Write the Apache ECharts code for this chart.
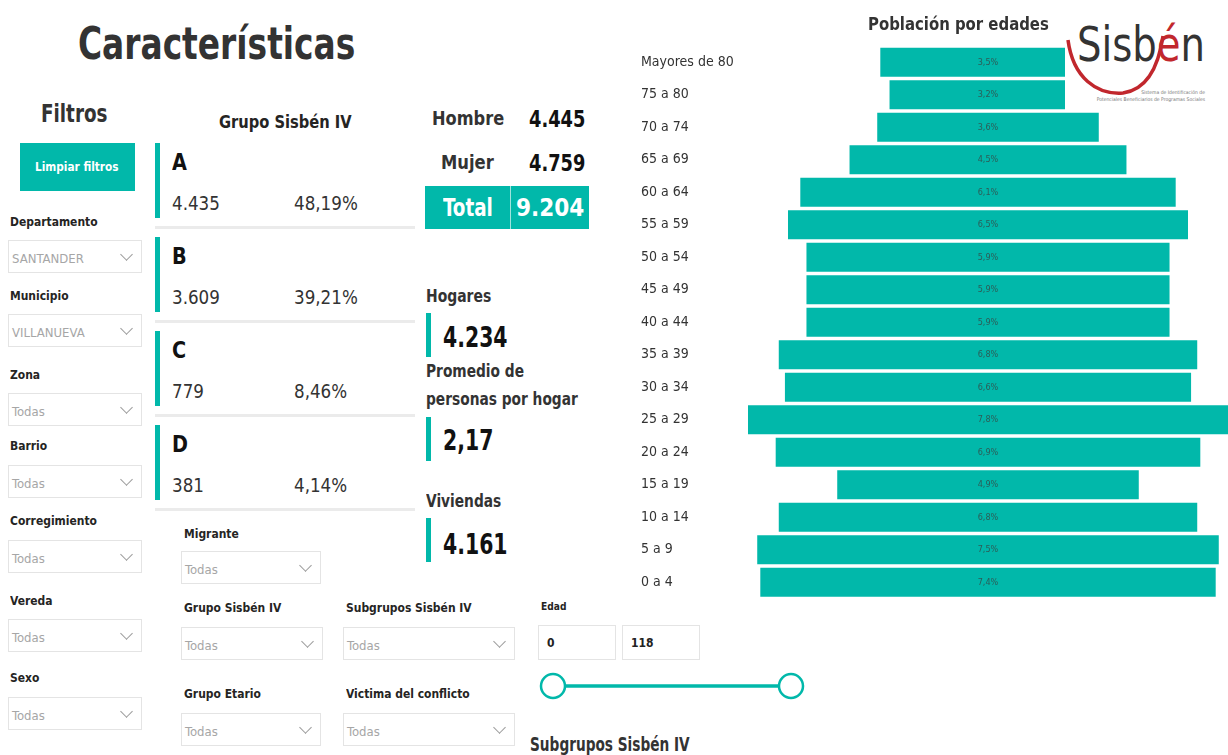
<!DOCTYPE html>
<html>
<head>
<meta charset="utf-8">
<script src="https://cdn.jsdelivr.net/npm/echarts@6/dist/echarts.min.js"></script>
<style>
body{margin:0;width:1228px;height:755px;overflow:hidden;background:#fff;position:relative;
  font-family:"DejaVu Sans Condensed","DejaVu Sans",sans-serif;color:#252423}
.a{position:absolute;white-space:nowrap;transform-origin:0 0}
.lbl{position:absolute;white-space:nowrap;font-size:13px;font-weight:bold;line-height:16px;transform:scaleX(.92);transform-origin:0 0}
.dd{position:absolute;border:1px solid #e4e4e4;height:33px;box-sizing:border-box;font-size:13px;color:#a6a6a6;padding:3px 0 0 3px;line-height:30px}
.dd i{position:absolute;right:10px;top:9px;width:8px;height:8px;border-right:1px solid #9a9a9a;border-bottom:1px solid #9a9a9a;transform:rotate(45deg)}
.bar{position:absolute;background:#01B8AA}
.line{position:absolute;background:#ebebeb;height:3px}
#chart{position:absolute;left:630px;top:0;width:598px;height:620px}
#logo{position:absolute;left:1065px;top:0;width:163px;height:110px;background:#fff}
</style>
</head>
<body>
<div class="a" style="left:78px;top:18px;font-size:44px;font-weight:bold;color:#333;line-height:52px;transform:scaleX(.83)">Características</div>
<div class="a" style="left:41px;top:99px;font-size:24px;font-weight:bold;color:#333;line-height:30px;transform:scaleX(.85)">Filtros</div>
<div class="bar" style="left:20px;top:143px;width:115px;height:48px"></div>
<div class="a" style="left:35px;top:159px;color:#fff;font-weight:bold;font-size:13px;line-height:16px;transform:scaleX(.9)">Limpiar filtros</div>

<div class="lbl" style="left:10px;top:214px">Departamento</div>
<div class="dd" style="left:8px;top:240px;width:134px">SANTANDER<i></i></div>
<div class="lbl" style="left:10px;top:288px">Municipio</div>
<div class="dd" style="left:8px;top:314px;width:134px">VILLANUEVA<i></i></div>
<div class="lbl" style="left:10px;top:367px">Zona</div>
<div class="dd" style="left:8px;top:393px;width:134px">Todas<i></i></div>
<div class="lbl" style="left:10px;top:438px">Barrio</div>
<div class="dd" style="left:8px;top:465px;width:134px">Todas<i></i></div>
<div class="lbl" style="left:10px;top:513px">Corregimiento</div>
<div class="dd" style="left:8px;top:540px;width:134px">Todas<i></i></div>
<div class="lbl" style="left:10px;top:593px">Vereda</div>
<div class="dd" style="left:8px;top:619px;width:134px">Todas<i></i></div>
<div class="lbl" style="left:10px;top:670px">Sexo</div>
<div class="dd" style="left:8px;top:697px;width:134px">Todas<i></i></div>

<div class="a" style="left:219px;top:111px;font-size:17px;font-weight:bold;line-height:22px;transform:scaleX(.96)">Grupo Sisbén IV</div>
<div id="cards"></div>

<div class="lbl" style="left:184px;top:526px">Migrante</div>
<div class="dd" style="left:181px;top:551px;width:140px">Todas<i></i></div>
<div class="lbl" style="left:184px;top:600px">Grupo Sisbén IV</div>
<div class="dd" style="left:181px;top:627px;width:142px">Todas<i></i></div>
<div class="lbl" style="left:346px;top:600px">Subgrupos Sisbén IV</div>
<div class="dd" style="left:343px;top:627px;width:172px">Todas<i></i></div>
<div class="lbl" style="left:184px;top:686px">Grupo Etario</div>
<div class="dd" style="left:181px;top:713px;width:140px">Todas<i></i></div>
<div class="lbl" style="left:346px;top:686px">Victima del conflicto</div>
<div class="dd" style="left:343px;top:713px;width:172px">Todas<i></i></div>

<div class="a" style="left:432px;top:105px;font-size:20px;font-weight:bold;line-height:26px;color:#333;transform:scaleX(.9)">Hombre</div>
<div class="a" style="left:529px;top:105px;font-size:23px;font-weight:bold;line-height:28px;color:#111;transform:scaleX(.86)">4.445</div>
<div class="a" style="left:441px;top:149px;font-size:20px;font-weight:bold;line-height:26px;color:#333;transform:scaleX(.91)">Mujer</div>
<div class="a" style="left:529px;top:149px;font-size:23px;font-weight:bold;line-height:28px;color:#111;transform:scaleX(.86)">4.759</div>
<div class="bar" style="left:425px;top:186px;width:164px;height:43px"></div>
<div class="a" style="left:510px;top:186px;width:1px;height:43px;background:#9fe3dd"></div>
<div class="a" style="left:443px;top:193px;font-size:24px;font-weight:bold;line-height:30px;color:#fff;transform:scaleX(.85)">Total</div>
<div class="a" style="left:516px;top:193px;font-size:24px;font-weight:bold;line-height:30px;color:#fff;transform:scaleX(1)">9.204</div>

<div class="a" style="left:426px;top:284px;font-size:18px;font-weight:bold;line-height:24px;color:#333;transform:scaleX(.86)">Hogares</div>
<div class="bar" style="left:426px;top:313px;width:5px;height:44px"></div>
<div class="a" style="left:443px;top:321px;font-size:28px;font-weight:bold;line-height:34px;color:#111;transform:scaleX(.81)">4.234</div>
<div class="a" style="left:426px;top:359px;font-size:18px;font-weight:bold;line-height:24px;color:#333;transform:scaleX(.85)">Promedio de</div>
<div class="a" style="left:426px;top:387px;font-size:18px;font-weight:bold;line-height:24px;color:#333;transform:scaleX(.85)">personas por hogar</div>
<div class="bar" style="left:426px;top:417px;width:5px;height:44px"></div>
<div class="a" style="left:443px;top:424px;font-size:28px;font-weight:bold;line-height:34px;color:#111;transform:scaleX(.81)">2,17</div>
<div class="a" style="left:426px;top:489px;font-size:18px;font-weight:bold;line-height:24px;color:#333;transform:scaleX(.85)">Viviendas</div>
<div class="bar" style="left:426px;top:518px;width:5px;height:44px"></div>
<div class="a" style="left:443px;top:528px;font-size:28px;font-weight:bold;line-height:34px;color:#111;transform:scaleX(.81)">4.161</div>

<div class="lbl" style="left:541px;top:599px;font-size:11px">Edad</div>
<div class="dd" style="left:538px;top:625px;width:78px;height:35px;color:#222;font-weight:bold;font-size:12px;padding:2px 0 0 8px">0</div>
<div class="dd" style="left:622px;top:625px;width:78px;height:35px;color:#222;font-weight:bold;font-size:12px;padding:2px 0 0 8px">118</div>
<svg class="a" style="left:530px;top:665px" width="290" height="45">
  <line x1="35" y1="21" x2="249" y2="21" stroke="#01B8AA" stroke-width="3.5"/>
  <circle cx="23" cy="21" r="12" fill="#fff" stroke="#01B8AA" stroke-width="2.5"/>
  <circle cx="261" cy="21" r="12" fill="#fff" stroke="#01B8AA" stroke-width="2.5"/>
</svg>
<div class="a" style="left:530px;top:732px;font-size:19px;font-weight:bold;line-height:24px;color:#333;transform:scaleX(.8)">Subgrupos Sisbén IV</div>

<div id="chart"></div>
<div class="a" style="left:868px;top:12px;font-size:18px;font-weight:bold;line-height:24px;color:#333;transform:scaleX(.92)">Población por edades</div>
<div id="logo">
  <svg width="163" height="110">
    <path d="M3,40 C8,78 32,95 58,93 C80,90 93,70 98,36" fill="none" stroke="#c1272d" stroke-width="3.5"/>
    <text x="12" y="61" font-size="48" fill="#333" textLength="128" lengthAdjust="spacingAndGlyphs" font-family="DejaVu Sans Condensed, DejaVu Sans">Sisb<tspan fill="#c1272d">é</tspan>n</text>
    <text x="140" y="94" font-size="5" fill="#777" text-anchor="end">Sistema de Identificación de</text>
    <text x="140" y="101" font-size="5" fill="#777" text-anchor="end">Potenciales Beneficiarios de Programas Sociales</text>
  </svg>
</div>

<script>
const ageGroups = ["Mayores de 80", "75 a 80", "70 a 74", "65 a 69", "60 a 64", "55 a 59", "50 a 54",
  "45 a 49", "40 a 44", "35 a 39", "30 a 34", "25 a 29", "20 a 24", "15 a 19", "10 a 14", "5 a 9", "0 a 4"];
const agePct = [3.5, 3.2, 3.6, 4.5, 6.1, 6.5, 5.9, 5.9, 5.9, 6.8, 6.6, 7.8, 6.9, 4.9, 6.8, 7.5, 7.4];

const groupLetters = ["A", "B", "C", "D"];
const groupCounts = ["4.435", "3.609", "779", "381"];
const groupShares = ["48,19%", "39,21%", "8,46%", "4,14%"];

// tarjetas de grupo Sisbén
let cardsHtml = "";
for (let i = 0; i < groupLetters.length; i = i + 1) {
    let top = 143 + i * 94;
    let tf = "transform:scaleX(.93)";
    cardsHtml += '<div class="bar" style="left:155px;top:' + top + 'px;width:5px;height:75px"></div>';
    cardsHtml += '<div class="a" style="left:172px;top:' + (top + 5) + 'px;font-size:23px;font-weight:bold;line-height:28px;color:#111;' + tf + '">' + groupLetters[i] + '</div>';
    cardsHtml += '<div class="a" style="left:172px;top:' + (top + 47) + 'px;font-size:20px;line-height:26px;color:#333;' + tf + '">' + groupCounts[i] + '</div>';
    cardsHtml += '<div class="a" style="left:294px;top:' + (top + 47) + 'px;font-size:20px;line-height:26px;color:#333;' + tf + '">' + groupShares[i] + '</div>';
    cardsHtml += '<div class="line" style="left:155px;top:' + (top + 83) + 'px;width:260px"></div>';
}
document.getElementById("cards").innerHTML = cardsHtml;

// piramide centrada: serie invisible como desplazamiento
let maxPct = Math.max(...agePct);
let offsets = agePct.map(v => (maxPct - v) / 2);

let myChart = echarts.init(document.getElementById("chart"));
let option = {
    animation: false,
    grid: {left: 118, right: 0, top: 46, bottom: 21.5},
    xAxis: {type: "value", min: 0, max: maxPct, show: false},
    yAxis: {
        type: "category",
        data: ageGroups,
        inverse: true,
        axisLine: {show: false},
        axisTick: {show: false},
        axisLabel: {
            align: "left",
            margin: 107,
            fontSize: 14,
            color: "#333",
            fontFamily: "DejaVu Sans Condensed, DejaVu Sans, sans-serif"
        }
    },
    series: [
        {
            type: "bar",
            stack: "p",
            data: offsets,
            barWidth: 29,
            silent: true,
            itemStyle: {color: "transparent"}
        },
        {
            type: "bar",
            stack: "p",
            data: agePct,
            barWidth: 29,
            itemStyle: {color: "#01B8AA"},
            label: {
                show: true,
                position: "inside",
                fontSize: 9,
                color: "#2d5d58",
                fontFamily: "DejaVu Sans Condensed, DejaVu Sans, sans-serif",
                formatter: p => p.value.toFixed(1).replace(".", ",") + "%"
            }
        }
    ]
};
myChart.setOption(option);
</script>
</body>
</html>
